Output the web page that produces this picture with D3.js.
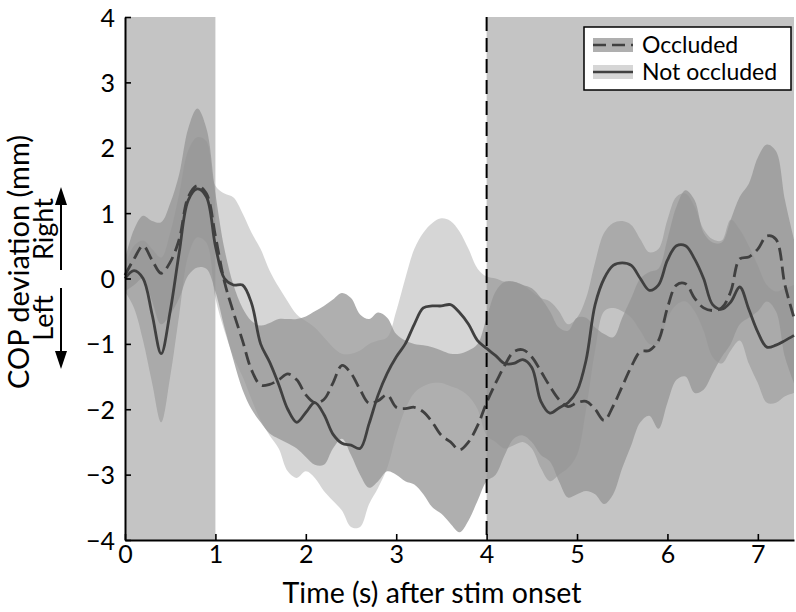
<!DOCTYPE html>
<html><head><meta charset="utf-8">
<script src="https://cdn.jsdelivr.net/npm/d3@7"></script>
<style>html,body{margin:0;padding:0;background:#fff;}svg{display:block;font-family:Lato,"Open Sans",sans-serif;}</style>
</head><body>
<svg id="c" width="796" height="612"></svg>
<script>
// ---- data ----
const time = [0.0,0.1,0.2,0.3,0.4,0.5,0.6,0.7,0.8,0.9,1.0,1.1,1.2,1.3,1.4,1.5,1.6,1.7,1.8,1.9,2.0,2.1,2.2,2.3,2.4,2.5,2.6,2.7,2.8,2.9,3.0,3.1,3.2,3.3,3.4,3.5,3.6,3.7,3.8,3.9,4.0,4.1,4.2,4.3,4.4,4.5,4.6,4.7,4.8,4.9,5.0,5.1,5.2,5.3,5.4,5.5,5.6,5.7,5.8,5.9,6.0,6.1,6.2,6.3,6.4,6.5,6.6,6.7,6.8,6.9,7.0,7.1,7.2,7.3,7.4];
const notMean = [0.00,0.12,0.00,-0.55,-1.15,-0.50,0.40,1.20,1.37,1.25,0.50,0.00,-0.10,-0.10,-0.38,-1.00,-1.28,-1.62,-2.00,-2.20,-2.05,-1.90,-2.08,-2.38,-2.52,-2.55,-2.60,-2.22,-1.78,-1.45,-1.20,-1.00,-0.70,-0.45,-0.42,-0.42,-0.40,-0.52,-0.70,-0.95,-1.07,-1.18,-1.30,-1.30,-1.24,-1.36,-1.88,-2.06,-1.98,-1.90,-1.72,-1.25,-0.40,0.00,0.20,0.24,0.20,0.00,-0.18,-0.10,0.28,0.50,0.50,0.30,0.00,-0.40,-0.47,-0.36,-0.13,-0.47,-0.82,-1.05,-1.02,-0.95,-0.87];
const notUpper = [0.20,0.50,0.58,0.45,0.32,0.70,1.30,1.96,2.16,2.10,1.42,1.30,1.24,1.00,0.70,0.45,0.12,-0.13,-0.35,-0.55,-0.65,-0.75,-0.90,-1.05,-1.15,-1.15,-1.10,-1.00,-0.95,-0.90,-0.50,0.00,0.45,0.70,0.85,0.92,0.88,0.72,0.45,0.15,0.03,0.00,-0.05,-0.05,-0.10,-0.20,-0.30,-0.35,-0.50,-0.70,-0.60,-0.30,0.25,0.70,0.85,0.88,0.82,0.60,0.40,0.45,0.90,1.25,1.30,1.10,0.75,0.60,0.58,0.90,0.75,0.50,0.20,-0.10,-0.20,-0.15,-0.10];
const notLower = [-0.20,-0.45,-0.95,-1.60,-2.20,-1.50,-0.55,0.35,0.63,0.55,-0.30,-0.80,-1.20,-1.50,-1.85,-2.17,-2.40,-2.60,-2.95,-3.05,-2.95,-3.05,-3.25,-3.40,-3.55,-3.80,-3.80,-3.45,-3.20,-2.90,-2.40,-2.00,-1.75,-1.65,-1.60,-1.60,-1.65,-1.70,-1.80,-2.00,-2.40,-2.50,-2.60,-2.55,-2.50,-2.60,-2.90,-3.10,-3.00,-2.90,-2.70,-2.00,-1.10,-0.50,-0.45,-0.50,-0.60,-0.80,-1.00,-1.00,-0.60,-0.40,-0.35,-0.50,-0.80,-1.20,-1.30,-1.10,-0.95,-1.30,-1.60,-1.90,-1.90,-1.80,-1.75];
const occMean = [0.05,0.30,0.50,0.28,0.08,0.25,0.60,1.25,1.42,1.30,0.65,-0.05,-0.52,-0.95,-1.40,-1.63,-1.62,-1.55,-1.46,-1.55,-1.78,-1.90,-1.85,-1.60,-1.33,-1.45,-1.70,-1.91,-1.87,-1.78,-1.97,-1.99,-1.97,-2.04,-2.20,-2.40,-2.50,-2.62,-2.50,-2.25,-1.90,-1.60,-1.33,-1.12,-1.09,-1.20,-1.42,-1.65,-1.85,-1.96,-1.90,-1.88,-2.00,-2.17,-1.95,-1.65,-1.35,-1.12,-1.10,-0.95,-0.45,-0.10,-0.08,-0.30,-0.45,-0.49,-0.45,-0.20,0.30,0.33,0.45,0.65,0.60,-0.10,-0.60];
const occUpper = [0.30,0.75,0.96,0.88,0.86,1.15,1.60,2.30,2.60,2.30,1.30,0.45,-0.10,-0.45,-0.65,-0.72,-0.68,-0.62,-0.62,-0.62,-0.58,-0.50,-0.42,-0.32,-0.22,-0.30,-0.55,-0.62,-0.52,-0.60,-0.85,-0.95,-1.00,-1.02,-1.05,-1.10,-1.15,-1.15,-1.10,-1.00,-0.60,-0.20,-0.05,-0.05,-0.10,-0.15,-0.30,-0.50,-0.75,-0.80,-0.60,-0.60,-0.75,-0.85,-0.90,-0.60,-0.30,0.00,0.10,0.15,0.60,1.10,1.35,1.20,0.70,0.55,0.55,0.90,1.25,1.45,1.85,2.05,1.95,1.20,0.60];
const occLower = [-0.20,-0.10,0.00,-0.35,-0.70,-0.55,-0.30,0.05,0.17,0.15,-0.20,-0.75,-1.25,-1.70,-2.00,-2.20,-2.37,-2.45,-2.52,-2.60,-2.73,-2.85,-2.85,-2.60,-2.45,-2.70,-3.00,-3.20,-3.10,-2.95,-3.00,-3.10,-3.15,-3.30,-3.50,-3.60,-3.75,-3.88,-3.70,-3.40,-3.10,-3.00,-2.70,-2.45,-2.40,-2.50,-2.70,-2.80,-3.10,-3.35,-3.30,-3.25,-3.30,-3.45,-3.30,-2.90,-2.55,-2.20,-2.10,-2.30,-1.90,-1.55,-1.50,-1.75,-1.70,-1.45,-1.20,-1.00,-0.70,-0.60,-0.50,-0.35,-0.50,-1.20,-1.60];
const shadeStart = [0, 4];
const shadeEnd = [1, 7.4];
const stimLine = 4;
const xTicks = [0,1,2,3,4,5,6,7];
const xTickLabels = ["0","1","2","3","4","5","6","7"];
const yTicks = [-4,-3,-2,-1,0,1,2,3,4];
const yTickLabels = ["\u22124","\u22123","\u22122","\u22121","0","1","2","3","4"];
const legendLabels = ["Occluded","Not occluded"];
const xTitle = "Time (s) after stim onset";
const yTitle = "COP deviation (mm)";

// ---- drawing ----
const svg = d3.select("#c");
const x = d3.scaleLinear().domain([0, 7.4]).range([125, 794]);
const y = d3.scaleLinear().domain([-4, 4]).range([540, 17]);

const occStyle = {fill: "rgb(149,149,149)", op: 0.756, dash: "13,6"};
const notStyle = {fill: "rgb(92,92,92)", op: 0.25, dash: null};
const lineColor = "#404040";

svg.append("g").selectAll("rect").data(shadeStart).join("rect")
  .attr("x", (d,i) => x(d)).attr("y", y(4))
  .attr("width", (d,i) => x(shadeEnd[i]) - x(d)).attr("height", y(-4) - y(4))
  .attr("fill", "#c4c4c4");

const curve = d3.curveCatmullRom.alpha(0.5);
const area = (up, lo) => d3.area().x((d,i) => x(time[i])).y0((d,i) => y(lo[i])).y1((d,i) => y(up[i])).curve(curve)(time);
const line = (m) => d3.line().x((d,i) => x(time[i])).y((d,i) => y(m[i])).curve(curve)(time);

svg.append("path").attr("d", area(notUpper, notLower)).attr("fill", notStyle.fill).attr("fill-opacity", notStyle.op);
svg.append("path").attr("d", area(occUpper, occLower)).attr("fill", occStyle.fill).attr("fill-opacity", occStyle.op);

svg.append("path").attr("d", line(notMean)).attr("fill", "none").attr("stroke", lineColor).attr("stroke-width", 2.8);
svg.append("path").attr("d", line(occMean)).attr("fill", "none").attr("stroke", lineColor).attr("stroke-width", 2.8).attr("stroke-dasharray", occStyle.dash);

svg.append("line").attr("x1", x(stimLine)).attr("x2", x(stimLine)).attr("y1", y(4)).attr("y2", y(-4))
  .attr("stroke", "#000").attr("stroke-width", 2).attr("stroke-dasharray", "14,7");

const xAxis = d3.axisBottom(x).tickValues(xTicks).tickFormat((d,i) => xTickLabels[i]).tickSize(-6).tickSizeOuter(0).tickPadding(5);
const yAxis = d3.axisLeft(y).tickValues(yTicks).tickFormat((d,i) => yTickLabels[i]).tickSize(-6).tickSizeOuter(0).tickPadding(10);
const gx = svg.append("g").attr("transform", `translate(0,${y(-4)})`).call(xAxis);
const gy = svg.append("g").attr("transform", `translate(${x(0)},0)`).call(yAxis);
[gx, gy].forEach(g => {
  g.select(".domain").attr("stroke", "#000").attr("stroke-width", 2);
  g.selectAll(".tick line").attr("stroke", "#000").attr("stroke-width", 1.6);
  g.selectAll(".tick text").attr("fill", "#000").style("font-size", "25px").style("font-family", "Lato");
});
gy.selectAll(".tick text").attr("dy", "0.36em");

svg.append("text").attr("x", 432).attr("y", 603).attr("text-anchor", "middle")
  .style("font-size", "28.5px").text(xTitle);
svg.append("text").attr("transform", "translate(29,262) rotate(-90)").attr("text-anchor", "middle")
  .style("font-size", "29px").text(yTitle);

svg.append("text").attr("transform", "translate(53,229) rotate(-90)").attr("text-anchor", "middle")
  .style("font-size", "27px").text("Right");
svg.append("text").attr("transform", "translate(53,318) rotate(-90)").attr("text-anchor", "middle")
  .style("font-size", "27px").text("Left");
const ax = 61;
svg.append("line").attr("x1", ax).attr("x2", ax).attr("y1", 270).attr("y2", 200).attr("stroke", "#000").attr("stroke-width", 2);
svg.append("path").attr("d", `M${ax},187L${ax-6},205L${ax+6},205Z`).attr("fill", "#000");
svg.append("line").attr("x1", ax).attr("x2", ax).attr("y1", 288).attr("y2", 356).attr("stroke", "#000").attr("stroke-width", 2);
svg.append("path").attr("d", `M${ax},369L${ax-6},351L${ax+6},351Z`).attr("fill", "#000");

const lg = svg.append("g");
lg.append("rect").attr("x", 584).attr("y", 27).attr("width", 207).attr("height", 63)
  .attr("fill", "#fff").attr("stroke", "#000").attr("stroke-width", 1.5);
const styles = [occStyle, notStyle];
legendLabels.forEach((lab, i) => {
  const cy = 45 + i * 27;
  lg.append("rect").attr("x", 593).attr("y", cy - 7).attr("width", 40).attr("height", 14)
    .attr("fill", styles[i].fill).attr("fill-opacity", styles[i].op);
  const l = lg.append("line").attr("x1", 593).attr("x2", 633).attr("y1", cy).attr("y2", cy)
    .attr("stroke", lineColor).attr("stroke-width", 2.6);
  if (styles[i].dash) l.attr("stroke-dasharray", "13,6");
  lg.append("text").attr("x", 642).attr("y", cy).attr("dy", "0.35em").style("font-size", "23px").text(lab);
});
</script>
</body></html>
